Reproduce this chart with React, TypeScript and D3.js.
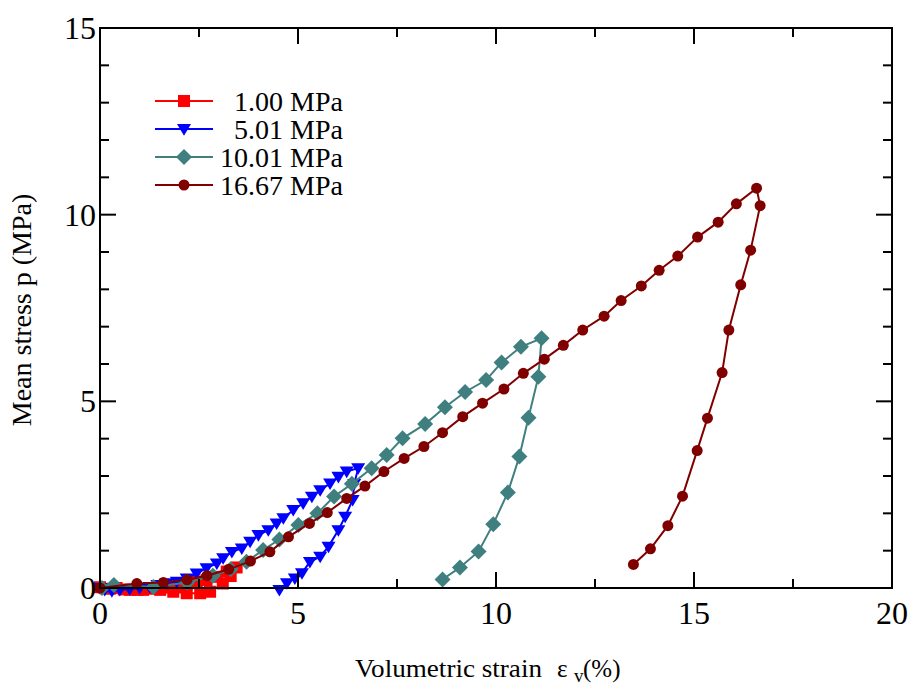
import React from "react";
import * as d3 from "d3";

type Pt = [number, number];

const seriesNames = ["1.00 MPa", "5.01 MPa", "10.01 MPa", "16.67 MPa"];
const seriesColors = ["#ff0000", "#0000ff", "#3f7f7f", "#800000"];
const seriesShapes = ["square", "triangle", "diamond", "circle"];

const s1: Pt[] = [
  [0, 0.02], [0.25, -0.02], [0.42, 0], [0.6, -0.04], [0.76, -0.05], [0.95, -0.05], [1.09, -0.05],
  [1.25, -0.02], [1.43, 0], [1.68, 0.01], [1.94, 0.03], [2.19, 0.1], [2.44, 0.17],
  [2.69, 0.21], [2.95, 0.3], [3.2, 0.44], [3.45, 0.55],
  [3.3, 0.32], [3.1, 0.12], [2.78, -0.1], [2.53, -0.14], [2.19, -0.14], [1.85, -0.1], [1.52, -0.05],
];

const s2: Pt[] = [
  [0, 0], [0.12, -0.05], [0.3, -0.08], [0.5, -0.05], [0.75, -0.03], [1.0, 0], [1.25, 0.03],
  [1.45, 0.08], [1.68, 0.13], [1.94, 0.17], [2.19, 0.26], [2.44, 0.39], [2.69, 0.53],
  [2.95, 0.66], [3.11, 0.8], [3.33, 0.97], [3.58, 1.06], [3.79, 1.24], [4.0, 1.42],
  [4.25, 1.55], [4.46, 1.73], [4.63, 1.87], [4.88, 2.09], [5.13, 2.27], [5.35, 2.45],
  [5.56, 2.62], [5.81, 2.8], [6.02, 2.98], [6.23, 3.12], [6.52, 3.21],
  [6.42, 2.79], [6.38, 2.36], [6.19, 1.91], [6.02, 1.55], [5.77, 1.11], [5.56, 0.84],
  [5.3, 0.7], [5.1, 0.4], [4.92, 0.26], [4.72, 0.13], [4.53, -0.05],
];

const s3: Pt[] = [
  [0.05, 0], [0.35, 0.08], [1.35, 0.03], [2.2, 0.15], [2.85, 0.33], [3.3, 0.5], [3.7, 0.7],
  [4.12, 1.02], [4.53, 1.3], [5.01, 1.69], [5.49, 2.0], [5.91, 2.45], [6.36, 2.79],
  [6.86, 3.21], [7.24, 3.56], [7.64, 4.01], [8.21, 4.39], [8.71, 4.84], [9.22, 5.25],
  [9.75, 5.57], [10.14, 6.04], [10.63, 6.46], [11.15, 6.69],
  [11.07, 5.66], [10.82, 4.56], [10.59, 3.52], [10.3, 2.56], [9.93, 1.71], [9.56, 0.98],
  [9.09, 0.55], [8.65, 0.23],
];

const s4: Pt[] = [
  [0, 0], [0.93, 0.12], [1.6, 0.15], [2.2, 0.22], [2.7, 0.33], [3.25, 0.5], [3.8, 0.72],
  [4.29, 0.97], [4.76, 1.37], [5.29, 1.73], [5.74, 2.02], [6.23, 2.4], [6.69, 2.73],
  [7.17, 3.12], [7.68, 3.47], [8.18, 3.79], [8.65, 4.16], [9.16, 4.59], [9.66, 4.95],
  [10.2, 5.33], [10.69, 5.75], [11.22, 6.13], [11.7, 6.5], [12.19, 6.91], [12.73, 7.28],
  [13.16, 7.7], [13.67, 8.09], [14.12, 8.51], [14.59, 8.89], [15.09, 9.4], [15.61, 9.8],
  [16.07, 10.29], [16.58, 10.71],
  [16.67, 10.24], [16.43, 9.05], [16.18, 8.12], [15.88, 6.91], [15.71, 5.77], [15.34, 4.55],
  [15.08, 3.68], [14.71, 2.46], [14.34, 1.67], [13.9, 1.05], [13.47, 0.63],
];

const seriesData = [s1, s2, s3, s4];

const xTicks = [0, 5, 10, 15, 20];
const yTicks = [0, 5, 10, 15];

const W = 914;
const H = 693;
const L = 100, R = 892, T = 28, B = 588;

function Marker({ shape, x, y, color }: { shape: string; x: number; y: number; color: string }) {
  if (shape === "square") {
    return <rect x={x - 6} y={y - 6} width={12} height={12} fill={color} />;
  }
  if (shape === "triangle") {
    const s = 7;
    return <path d={`M${x - s},${y - s * 0.7} L${x + s},${y - s * 0.7} L${x},${y + s * 0.95} Z`} fill={color} />;
  }
  if (shape === "diamond") {
    const s = 8;
    return <path d={`M${x},${y - s} L${x + s},${y} L${x},${y + s} L${x - s},${y} Z`} fill={color} />;
  }
  return <circle cx={x} cy={y} r={5.5} fill={color} />;
}

export default function App() {
  const x = d3.scaleLinear().domain([0, 20]).range([L, R]);
  const y = d3.scaleLinear().domain([0, 15]).range([B, T]);
  const line = d3.line<Pt>().x((d) => x(d[0])).y((d) => y(d[1]));

  const xMinor = d3.range(0, 20.01, 2.5);
  const yMinor = d3.range(0, 15.01, 1);
  const font = "'Liberation Serif', 'Times New Roman', serif";

  const legendY = [101, 129, 157, 185];

  return (
    <div style={{ position: "absolute", left: 0, top: 0 }}>
      <svg width={W} height={H} style={{ display: "block", background: "#fff" }}>
        <rect x={0} y={0} width={W} height={H} fill="#fff" />
        <g>
          {seriesData.map((data, i) => (
            <g key={i}>
              <path d={line(data) || ""} fill="none" stroke={seriesColors[i]} strokeWidth={2} />
              {data.map((d, j) => (
                <Marker key={j} shape={seriesShapes[i]} x={x(d[0])} y={y(d[1])} color={seriesColors[i]} />
              ))}
            </g>
          ))}
        </g>
        {/* frame */}
        <rect x={L} y={T} width={R - L} height={B - T} fill="none" stroke="#000" strokeWidth={2} />
        {/* ticks */}
        {xMinor.map((v, i) => {
          const major = v % 5 === 0;
          const len = major ? 16 : 9;
          return (
            <g key={"xt" + i}>
              <line x1={x(v)} x2={x(v)} y1={B} y2={B - len} stroke="#000" strokeWidth={2} />
              <line x1={x(v)} x2={x(v)} y1={T} y2={T + len} stroke="#000" strokeWidth={2} />
            </g>
          );
        })}
        {yMinor.map((v, i) => {
          const major = v % 5 === 0;
          const len = major ? 16 : 9;
          return (
            <g key={"yt" + i}>
              <line x1={L} x2={L + len} y1={y(v)} y2={y(v)} stroke="#000" strokeWidth={2} />
              <line x1={R} x2={R - len} y1={y(v)} y2={y(v)} stroke="#000" strokeWidth={2} />
            </g>
          );
        })}
        {/* tick labels */}
        {xTicks.map((v) => (
          <text key={"xl" + v} x={x(v)} y={B + 36} textAnchor="middle" fontFamily={font} fontSize={32} fill="#000">
            {v}
          </text>
        ))}
        {yTicks.map((v) => (
          <text key={"yl" + v} x={L - 4} y={y(v) + 11} textAnchor="end" fontFamily={font} fontSize={32} fill="#000">
            {v}
          </text>
        ))}
        {/* axis titles */}
        <text x={355} y={677} fontFamily={font} fontSize={25} fill="#000" textLength={187} lengthAdjust="spacingAndGlyphs">
          Volumetric strain
        </text>
        <text x={557} y={677} fontFamily={font} fontSize={25} fill="#000">ε</text>
        <text x={574} y={682} fontFamily={font} fontSize={19} fill="#000">v</text>
        <text x={583} y={677} fontFamily={font} fontSize={25} fill="#000">
          (%)
        </text>
        <text
          transform={`translate(31, ${(T + B) / 2 + 2}) rotate(-90)`}
          textAnchor="middle"
          fontFamily={font}
          fontSize={28}
          fill="#000"
        >
          Mean stress p (MPa)
        </text>
        {/* legend */}
        {seriesNames.map((n, i) => (
          <g key={"lg" + i}>
            <line x1={155} x2={213} y1={legendY[i]} y2={legendY[i]} stroke={seriesColors[i]} strokeWidth={2} />
            <Marker shape={seriesShapes[i]} x={184} y={legendY[i]} color={seriesColors[i]} />
            <text x={343} y={legendY[i] + 10} textAnchor="end" fontFamily={font} fontSize={28} fill="#000">
              {n}
            </text>
          </g>
        ))}
      </svg>
    </div>
  );
}
